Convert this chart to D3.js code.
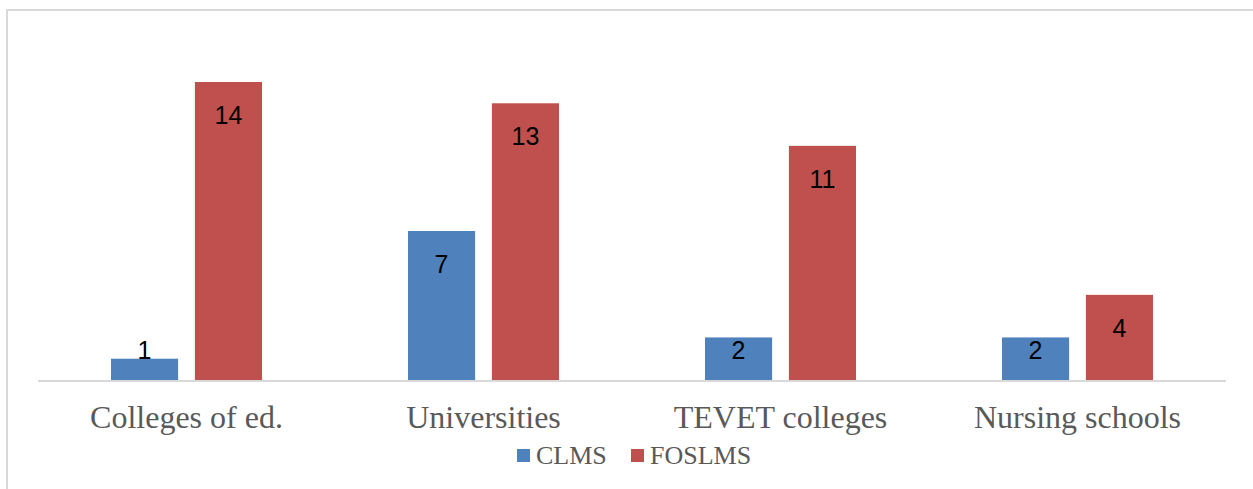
<!DOCTYPE html>
<head>
  <meta charset="utf-8">
  <script src="https://cdnjs.cloudflare.com/ajax/libs/d3/7.8.5/d3.min.js"></script>
</head>
<style>
  body { margin: 0; background: #fff; }
  .cat-label { font-family: 'Liberation Serif', 'Times New Roman', serif; font-size: 32px; fill: #595959; }
  .legend-label { font-family: 'Liberation Serif', 'Times New Roman', serif; font-size: 26px; fill: #595959; }
  .val-label { font-family: 'Liberation Sans', Arial, sans-serif; font-size: 25px; fill: #000; }
</style>
<body>
  <svg id='chart'></svg>
</body>
<script>

var categories = ['Colleges of ed.', 'Universities', 'TEVET colleges', 'Nursing schools'];
var series = ['CLMS', 'FOSLMS'];
var clms = [1, 7, 2, 2];
var foslms = [14, 13, 11, 4];
var colours = {'CLMS': '#4F81BD', 'FOSLMS': '#C0504D'};

var width = 1253, height = 489,
    plot_left = 38, plot_right = 1226,
    base_y = 380, top_y = 82;

var svg = d3.select('#chart').attr('width', width).attr('height', height);

// outer frame
svg.append('rect')
  .attr('x', 7).attr('y', 10)
  .attr('width', width + 10).attr('height', height + 10)
  .attr('fill', 'none')
  .attr('stroke', '#d9d9d9')
  .attr('stroke-width', 2);

var x0 = d3.scaleBand().domain(categories).range([plot_left, plot_right]);
var x1 = d3.scaleBand().domain(series).range([0, 151]).paddingInner(0.2);
var group_off = (x0.bandwidth() - 151) / 2;
var y = d3.scaleLinear().domain([0, 14]).range([base_y, top_y]);

var rows = categories.map(function(c, i) {
  return {cat: c, values: [{s: 'CLMS', v: clms[i]}, {s: 'FOSLMS', v: foslms[i]}]};
});

var groups = svg.selectAll('g.grp')
  .data(rows)
  .enter()
  .append('g')
  .attr('class', 'grp')
  .attr('transform', function(d) { return 'translate(' + (x0(d.cat) + group_off) + ',0)'; });

groups.selectAll('rect.bar')
  .data(function(d) { return d.values; })
  .enter()
  .append('rect')
  .attr('class', 'bar')
  .attr('x', function(d) { return x1(d.s); })
  .attr('y', function(d) { return y(d.v); })
  .attr('width', x1.bandwidth())
  .attr('height', function(d) { return base_y - y(d.v); })
  .attr('fill', function(d) { return colours[d.s]; });

groups.selectAll('text.val-label')
  .data(function(d) { return d.values; })
  .enter()
  .append('text')
  .attr('class', 'val-label')
  .attr('text-anchor', 'middle')
  .attr('dominant-baseline', 'central')
  .attr('x', function(d) { return x1(d.s) + x1.bandwidth() / 2; })
  .attr('y', function(d) { return Math.min(y(d.v) + 33, base_y - 30); })
  .text(function(d) { return d.v; });

// baseline
svg.append('line')
  .attr('x1', plot_left).attr('x2', plot_right)
  .attr('y1', base_y + 1).attr('y2', base_y + 1)
  .attr('stroke', '#d9d9d9')
  .attr('stroke-width', 2);

svg.selectAll('text.cat-label')
  .data(categories)
  .enter()
  .append('text')
  .attr('class', 'cat-label')
  .attr('text-anchor', 'middle')
  .attr('x', function(d) { return x0(d) + x0.bandwidth() / 2; })
  .attr('y', 428)
  .text(function(d) { return d; });

// legend
var legend = [{s: 'CLMS', x: 517}, {s: 'FOSLMS', x: 631}];
var lg = svg.selectAll('g.legend')
  .data(legend)
  .enter()
  .append('g')
  .attr('class', 'legend')
  .attr('transform', function(d) { return 'translate(' + d.x + ',449)'; });

lg.append('rect')
  .attr('width', 13).attr('height', 13)
  .attr('fill', function(d) { return colours[d.s]; });

lg.append('text')
  .attr('class', 'legend-label')
  .attr('x', 19)
  .attr('y', 15)
  .text(function(d) { return d.s; });

</script>
